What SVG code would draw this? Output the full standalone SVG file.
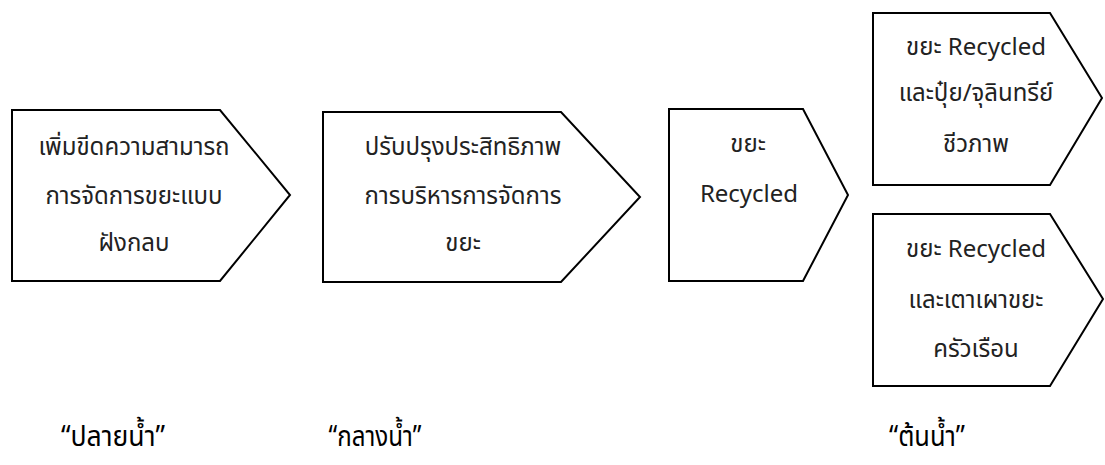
<svg xmlns="http://www.w3.org/2000/svg" width="1105" height="465" viewBox="0 0 1105 465">
<style>
.box{fill:#fff;stroke:#000;stroke-width:2;stroke-linejoin:miter}
.t{font-family:"Noto Sans Thai","Noto Sans Thai UI","Noto Sans","DejaVu Sans",sans-serif;font-size:24px;fill:#222;text-anchor:middle}
.lab{font-family:"Noto Sans Thai","Noto Sans","DejaVu Sans",sans-serif;font-size:29px;fill:#000;text-anchor:middle}
</style>
<rect width="1105" height="465" fill="#fff"/>
<g id="connectors"></g>
<g id="node1">
<polygon class="box" points="12,110 220,110 290,195 220,281 12,281"/>
<text class="t" x="134" y="155">เพิ่มขีดความสามารถ</text>
<text class="t" x="134" y="204">การจัดการขยะแบบ</text>
<text class="t" x="134" y="251">ฝังกลบ</text>
</g>
<g id="node2">
<polygon class="box" points="323,112 561,112 640,197 561,282 323,282"/>
<text class="t" x="463" y="155">ปรับปรุงประสิทธิภาพ</text>
<text class="t" x="463" y="204">การบริหารการจัดการ</text>
<text class="t" x="463" y="251">ขยะ</text>
</g>
<g id="node3">
<polygon class="box" points="669,109 803,109 848,195 803,281 669,281"/>
<text class="t" x="748" y="152">ขยะ</text>
<text class="t" x="749" y="202">Recycled</text>
</g>
<g id="node4">
<polygon class="box" points="873,13 1050,13 1102,98 1050,185 873,185"/>
<text class="t" x="976" y="55">ขยะ Recycled</text>
<text class="t" x="976" y="101">และปุ๋ย/จุลินทรีย์</text>
<text class="t" x="976" y="152">ชีวภาพ</text>
</g>
<g id="node5">
<polygon class="box" points="873,214 1050,214 1103,299 1050,386 873,386"/>
<text class="t" x="976" y="257">ขยะ Recycled</text>
<text class="t" x="976" y="308">และเตาเผาขยะ</text>
<text class="t" x="976" y="357">ครัวเรือน</text>
</g>
<g id="labels">
<text class="lab" x="113" y="446" textLength="104" lengthAdjust="spacingAndGlyphs">“ปลายน้ำ”</text>
<text class="lab" x="375" y="446" textLength="93" lengthAdjust="spacingAndGlyphs">“กลางน้ำ”</text>
<text class="lab" x="927" y="446" textLength="76" lengthAdjust="spacingAndGlyphs">“ต้นน้ำ”</text>
</g>
</svg>
